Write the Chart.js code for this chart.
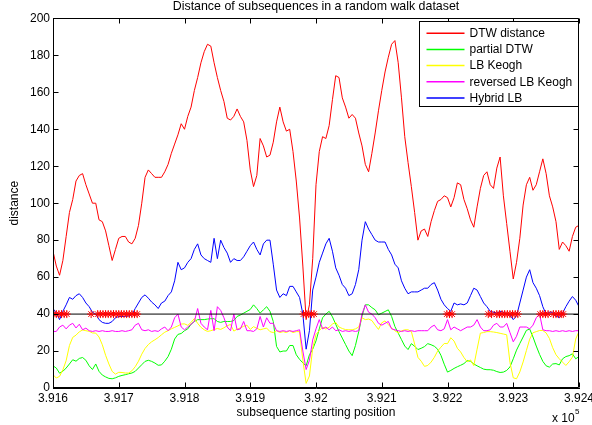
<!DOCTYPE html>
<html><head><meta charset="utf-8">
<script src="https://cdn.jsdelivr.net/npm/chart.js@4.4.1/dist/chart.umd.min.js"></script>
<style>html,body{margin:0;padding:0;background:#fff;}canvas{display:block;}</style>
</head><body>
<canvas id="c" width="592" height="425"></canvas>
<script>
// ---- data ----
const positions = [
391600,391605,391610,391615,391620,391625,391630,391635,391640,391645,
391650,391655,391660,391665,391670,391675,391680,391685,391690,391695,
391700,391705,391710,391715,391720,391725,391730,391735,391740,391745,
391750,391755,391760,391765,391770,391775,391780,391785,391790,391795,
391800,391805,391810,391815,391820,391825,391830,391835,391840,391845,
391850,391855,391860,391865,391870,391875,391880,391885,391890,391895,
391900,391905,391910,391915,391920,391925,391930,391935,391940,391945,
391950,391955,391960,391965,391970,391975,391980,391985,391990,391995,
392000,392005,392010,392015,392020,392025,392030,392035,392040,392045,
392050,392055,392060,392065,392070,392075,392080,392085,392090,392095,
392100,392105,392110,392115,392120,392125,392130,392135,392140,392145,
392150,392155,392160,392165,392170,392175,392180,392185,392190,392195,
392200,392205,392210,392215,392220,392225,392230,392235,392240,392245,
392250,392255,392260,392265,392270,392275,392280,392285,392290,392295,
392300,392305,392310,392315,392320,392325,392330,392335,392340,392345,
392350,392355,392360,392365,392370,392375,392380,392385,392390,392395,
392400];

const dtwDistance = [
74,66,61,69,82,95,102,112,115,116,
110,105,100,100,91,90,85,77,69,75,
81,82,82,79,78,81,88,100,114,118,
116,114,114,114,117,121,127,132,137,143,
140,147,152,161,168,176,182,186,185,176,
168,161,155,146,145,147,151,147,144,134,
118,109,115,135,131,125,126,133,144,152,
144,139,140,128,112,92,66,37,45,70,
110,128,136,135,142,156,169,168,157,152,
146,148,146,138,131,121,117,127,138,150,
161,171,179,186,188,176,157,136,122,109,
95,80,85,86,82,90,96,101,102,104,
103,98,103,111,110,102,97,91,87,98,
108,115,117,110,108,119,125,104,89,74,
59,68,81,99,110,114,107,110,117,124,
116,104,98,90,75,79,77,74,82,87,
88];

const partialDTW = [
12,10.8,8,9,10.8,13,15.3,14.5,16,16.5,
15,12,10,13,9,7,6,5.2,5,5.5,
6.3,6.8,7.2,7.7,8.1,9,10.8,12.6,14.4,15,
14.4,13.5,12.3,12.5,14.5,17,21,26.5,29,29.5,
31,32,34.5,36,37,37,37,37.3,37.5,37.5,
36,35.5,36,36,36,36.5,38.7,39.5,40.5,41.5,
42.5,45,43,40.5,42.3,44,41.5,36,22.5,19.5,
20,20,23,23,18,15.5,13.6,12,18,21,
25.5,32,38,40,41.5,38.5,34.5,30.5,27,23.5,
20,17.5,23,30.5,39,45,45,43.5,42.3,39.6,
40.5,41.4,42.3,38.7,33.3,29.7,26.2,22.7,20.8,24,
22.6,20.8,21.5,22.4,24,23.4,22.6,21,17.7,12.9,
8.6,9.5,10.6,11.5,12.3,13.2,14.8,14.5,13,12,
11.1,10.2,9.9,9.9,9.6,8.9,8.4,8.6,9.5,11.4,
15.8,20.5,24.1,27.6,31.2,31.9,27.6,22.7,18.2,14.4,
12,11.3,13,13.2,12.5,15.8,17,17.5,18.5,15.8,
17];

const lbKeogh = [
7.2,5.4,6.3,9.8,14.8,23,27.4,28.6,30.4,31.4,
31,30.7,29.8,29.7,27.6,23.4,17.7,13,9,7.5,
8.5,8.4,8.1,8.1,9.3,11.5,14.5,18.3,21.4,23.5,
25,26.1,27.3,28.8,30.2,31,32,32.8,33.6,34.6,
34.7,33.9,35.5,37.6,35,32.8,31.5,30.6,31,31.6,
32.2,31.7,32.6,33.7,34.4,30.8,31.8,32.5,33.4,34,
31.7,33.2,32.3,31.5,32,32.4,30.5,30,31,30,
30.5,30,31,30,30.5,30.5,15,2.5,6.5,21.5,
29,31,33,31.9,32.9,34.6,35.5,33,32.2,31.6,
31.5,31.5,32,33,38,37,37.3,36.5,34,31.7,
35.3,36.3,34.3,32.4,31,29.8,30.9,31.5,31.5,30.6,
23.8,16.6,14.5,11.7,12.2,14,16.6,20,22.1,24.1,
24,27.2,25.4,21.5,19.5,16.5,14.2,15.2,12.1,21,
29.7,30,30.5,30.5,30.3,30,29.6,29.2,28.8,13.9,
5.5,5,8.7,14.1,20.3,26.4,29.9,30.5,31.1,31.1,
29.8,26.8,21.8,18,15.8,14,12.2,14.2,16.7,26.5,
30.6];

const reversedLBKeogh = [
30.6,30.6,33,34,32,34,35,32.5,34.5,31.5,
32.4,31,30.6,31,30.6,31,30.6,30.6,31,30.6,
30.6,31,30.6,31,31.5,34,35,31.5,31,31.5,
30.6,31,30.6,32,33,31,33,38,40,33,
31.5,33,34.5,36,43,35,33,31.5,42,31,
44,42,38,33,31,40,31.5,32,36,31,
31,30.6,32,38.7,33,38,35,35,31,30.6,
31,30.6,31,30.6,31,31.5,20,10,15,26,
32,37,32,33,31.5,33,31,31.5,30.6,31,
30.6,31,30.6,31,40,45,41,40,38,35,
34,35,36,32,31.5,31,30.6,31,30.6,31,
30.6,31,31,31,31,33,34,31.5,31,32,
37,31.5,33,32,31,32,33,33,34,37,
33,31,31,31.5,34,35,33,33,35,30,
25,28,33,33,33,32,34,38,40,31.5,
31,31,30.6,31,30.6,31,30.6,31,30.6,31,
31];

const hybridLB = [
43,40.5,37,41.5,45,49,48,50,51,49,
46,44,41,40,37,35.5,35,35,36,38,
38.7,38.7,38.7,39,39.5,43,46,49,50.4,48.6,
46.5,45,43,46,47,50,52,58,68,64,
65,68,70,75,78,72,70,69,68,81,
70,80,76,73,68,70,69,69,71,74,
77,79,75,72,78,80,80,67,53,49,
51,50,55,55,52,49,40,21,31,53,
60,68,73,78,81,74,65,61,56,54,
50,51,56,64,80,90,86,83,80,79,
79,79,75,72,67,65,58,54,51,52,
52,52,53,54,54,56,57,53,48,45,
43,41.5,46,45,45.5,45,46,50,54,53,
49.5,46,44,41.5,41,40.5,41.5,41,40,39.5,
37,39,46,53,60,64,57,54,50,44,
40,41,41,39,38,40.5,44,47,49.5,47.5,
44];

const threshold = 40;
const markedPositions = [
391601,391605,391609,391613,391617,391621,
391658,
391668,391672,391676,391680,391684,391688,391692,391696,391700,391704,391708,391712,391716,391720,391724,391728,
391981,391985,391989,391993,391997,
392199,392203,392207,
392262,392267,
392275,392279,392283,392287,392291,392295,392299,392303,392307,
392341,392345,392349,392353,
392361,392365,392369,392373,392376];

const xTickStep = 100;
const yTicks = [0,20,40,60,80,100,120,140,160,180,200];

// ---- build ----
const pts = arr => positions.map((x,i)=>({x:x, y:arr[i]}));
const FONT = '"Liberation Sans", Arial, Helvetica, sans-serif';
Chart.defaults.font.family = FONT;
Chart.defaults.font.size = 12;
Chart.defaults.color = '#000';

function lineDs(label, data, color, order){
  return {label, data: pts(data), borderColor: color, backgroundColor: color,
    borderWidth: 1, pointRadius: 0, tension: 0, fill: false, order, inLegend: true};
}

const datasets = [
  {label:'marked', data: markedPositions.map(x=>({x, y: threshold})), showLine:false,
   pointStyle:'star', pointRadius:4, borderColor:'#ff0000', backgroundColor:'#ff0000',
   pointBorderWidth:1, order:0, inLegend:false},
  {label:'threshold', data:[{x:positions[0], y:threshold},{x:positions[positions.length-1], y:threshold}],
   borderColor:'#000', borderWidth:1, pointRadius:0, order:1, inLegend:false},
  lineDs('Hybrid LB', hybridLB, '#0000ff', 2),
  lineDs('reversed LB Keogh', reversedLBKeogh, '#ff00ff', 3),
  lineDs('LB Keogh', lbKeogh, '#ffff00', 4),
  lineDs('partial DTW', partialDTW, '#00ff00', 5),
  lineDs('DTW distance', dtwDistance, '#ff0000', 6)
];
const legendOrder = ['DTW distance','partial DTW','LB Keogh','reversed LB Keogh','Hybrid LB'];

const framePlugin = {
  id:'frame',
  afterLayout(chart){
    if (chart.titleBlock) {
      chart.titleBlock.left = chart.chartArea.left;
      chart.titleBlock.right = chart.chartArea.right;
    }
  },
  afterDatasetsDraw(chart){
    const {ctx, chartArea:a, scales:{x, y}} = chart;
    ctx.save();
    ctx.strokeStyle = '#000'; ctx.lineWidth = 1;
    const L = Math.round(a.left)+0.5, R = Math.round(a.right)-0.5, T = Math.round(a.top)+0.5, B = Math.round(a.bottom)-0.5;
    ctx.beginPath();
    ctx.rect(L, T, R-L, B-T);
    const tl = 5;
    x.ticks.forEach(t=>{ const p = Math.round(x.getPixelForValue(t.value))+0.5;
      ctx.moveTo(p,B); ctx.lineTo(p,B-tl); ctx.moveTo(p,T); ctx.lineTo(p,T+tl); });
    y.ticks.forEach(t=>{ const p = Math.round(y.getPixelForValue(t.value))+0.5;
      ctx.moveTo(L,p); ctx.lineTo(L+tl,p); ctx.moveTo(R,p); ctx.lineTo(R-tl,p); });
    ctx.stroke();

    // legend
    const w = 159, h = 85;
    const x0 = Math.round(a.right) - w - 0.5, y0 = Math.round(a.top) + 3 + 0.5;
    ctx.fillStyle = '#fff';
    ctx.fillRect(x0, y0, w, h);
    ctx.strokeRect(x0, y0, w, h);
    ctx.font = '12px ' + FONT;
    ctx.textBaseline = 'middle';
    ctx.textAlign = 'left';
    legendOrder.forEach((lab, i)=>{
      const ds = chart.data.datasets.find(d=>d.label===lab);
      const ry = y0 + 11.7 + i*16.2;
      ctx.strokeStyle = ds.borderColor; ctx.lineWidth = 1.5;
      ctx.beginPath(); ctx.moveTo(x0+7, ry); ctx.lineTo(x0+45, ry); ctx.stroke();
      ctx.fillStyle = '#000';
      ctx.fillText(lab, x0+50, ry+0.5);
    });

    // exponent label
    ctx.fillStyle = '#000';
    ctx.textBaseline = 'alphabetic';
    ctx.font = '12px ' + FONT;
    ctx.fillText('x 10', a.right - 27, 421.5);
    ctx.font = '8px ' + FONT;
    ctx.fillText('5', a.right - 4, 413.5);
    ctx.restore();
  }
};

new Chart(document.getElementById('c'), {
  type:'line',
  data:{datasets},
  options:{
    responsive:false, animation:false, devicePixelRatio:1,
    layout:{padding:{left:0, right:13, top:0, bottom:0}},
    plugins:{
      legend:{display:false},
      tooltip:{enabled:false},
      title:{display:true, text:'Distance of subsequences in a random walk dataset',
        color:'#000', font:{size:12.4, weight:'normal', lineHeight:1}, padding:{top:0, bottom:6}}
    },
    scales:{
      x:{type:'linear', min:positions[0], max:positions[positions.length-1],
        ticks:{stepSize:xTickStep, autoSkip:false, maxRotation:0, padding:3, color:'#000',
          callback:v=>String(+(v/1e5).toFixed(3))},
        grid:{display:false, drawTicks:false},
        border:{display:true, color:'#000', width:1},
        title:{display:true, text:'subsequence starting position', color:'#000',
          font:{size:12}, padding:{top:0, bottom:5}},
        afterFit(s){ s.height = 37; s.paddingLeft = 0; s.paddingRight = 0; }
      },
      y:{min:yTicks[0], max:yTicks[yTicks.length-1],
        afterBuildTicks(s){ s.ticks = yTicks.map(v=>({value:v})); },
        ticks:{padding:3, color:'#000'},
        grid:{display:false, drawTicks:false},
        border:{display:true, color:'#000', width:1},
        title:{display:true, text:'distance', color:'#000', font:{size:12}, padding:{top:7, bottom:0}},
        afterFit(s){ s.width = 53; s.paddingTop = 0; s.paddingBottom = 0; }
      }
    }
  },
  plugins:[framePlugin]
});
</script>
</body></html>
